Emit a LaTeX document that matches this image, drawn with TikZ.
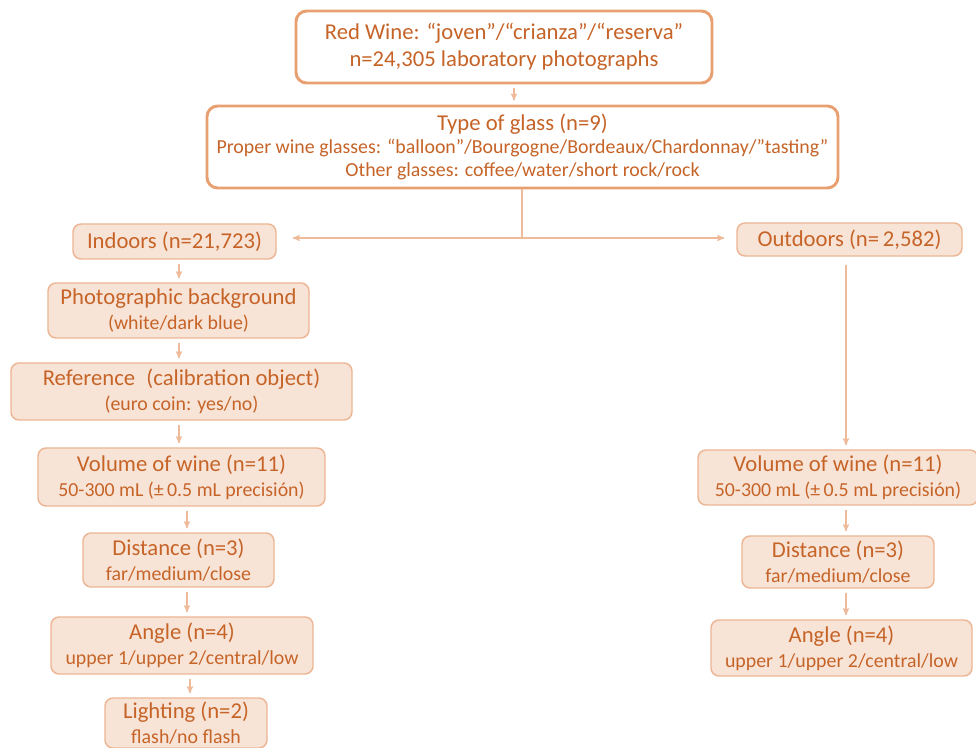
\documentclass[tikz,border=0pt]{standalone}
\usepackage{fontspec}
\setmainfont{Carlito}
\usepackage{tikz}
\usetikzlibrary{arrows,positioning}

\definecolor{winetext}{RGB}{198,100,40}
\definecolor{wineedge}{RGB}{232,160,112}
\definecolor{winefill}{RGB}{248,228,215}
\definecolor{winestep}{RGB}{236,182,148}
\definecolor{winearrow}{RGB}{238,186,154}

\newcommand{\sublabel}[1]{{\fontsize{14.9}{17}\selectfont #1}}

\begin{document}
\begin{tikzpicture}[x=0.75pt,y=-0.75pt,
      topbox/.style={draw=wineedge, line width=2.2pt, fill=white, rounded corners=8pt,
        text=winetext, align=center, font={\fontsize{17}{20}\selectfont}, inner sep=0pt},
      stepbox/.style={draw=winestep, line width=1.1pt, fill=winefill, rounded corners=6pt,
        text=winetext, align=center, font={\fontsize{17}{18.7}\selectfont}, inner sep=0pt},
      boxsize/.style 2 args={minimum width={#1*0.75pt}, minimum height={#2*0.75pt}},
      flow/.style={->, >=stealth', draw=winearrow, line width=0.9pt, shorten >=3pt, shorten <=3pt}]

    \useasboundingbox (0,0) rectangle (976,748);

    %draw top boxes
    \node[topbox, boxsize={416}{72}] (wine) at (504,47)
      {Red Wine: “joven”/“crianza”/“reserva”\\n=24,305 laboratory photographs};
    \node[topbox, boxsize={631}{82}, font={\fontsize{17}{17.3}\selectfont}] (glass) at (522.5,147)
      {Type of glass (n=9)\\
       \sublabel{Proper wine glasses: “balloon”/Bourgogne/Bordeaux/Chardonnay/”tasting”}\\
       \sublabel{Other glasses: coffee/water/short rock/rock}};

    %draw indoor branch
    \node[stepbox, boxsize={203}{35}] (indoors) at (174.5,241.5) {Indoors (n=21,723)};
    \node[stepbox, boxsize={261}{55}] (backgr) at (178.5,310.5)
      {Photographic background\\\sublabel{(white/dark blue)}};
    \node[stepbox, boxsize={341}{57}] (refobj) at (181.5,391.5)
      {Reference\enspace(calibration object)\\\sublabel{(euro coin: yes/no)}};
    \node[stepbox, boxsize={287}{58}] (volin) at (181.5,477)
      {Volume of wine (n=11)\\\sublabel{50-300 mL (±\,0.5 mL precisión)}};
    \node[stepbox, boxsize={191}{54}] (distin) at (178.5,560)
      {Distance (n=3)\\\sublabel{far/medium/close}};
    \node[stepbox, boxsize={262}{57}] (anglein) at (182,645.5)
      {Angle (n=4)\\\sublabel{upper 1/upper 2/central/low}};
    \node[stepbox, boxsize={162}{50}] (lightin) at (186,723)
      {Lighting (n=2)\\\sublabel{flash/no flash}};

    %draw outdoor branch
    \node[stepbox, boxsize={225}{33}] (outdoors) at (849.5,239.5) {Outdoors (n=\,2,582)};
    \node[stepbox, boxsize={280}{55}] (volout) at (838,477.5)
      {Volume of wine (n=11)\\\sublabel{50-300 mL (±\,0.5 mL precisión)}};
    \node[stepbox, boxsize={192}{52}] (distout) at (838,562)
      {Distance (n=3)\\\sublabel{far/medium/close}};
    \node[stepbox, boxsize={261}{56}] (angleout) at (841.5,648)
      {Angle (n=4)\\\sublabel{upper 1/upper 2/central/low}};

    %draw connectors
    \coordinate (split) at (522,238);
    \draw[flow] (wine.south -| 514,0) -- (glass.north -| 514,0);
    \draw[draw=winearrow, line width=0.9pt] (glass.south -| split) -- (split);
    \draw[flow, shorten <=0pt, shorten >=12pt] (split) -- (split -| indoors.east);
    \draw[flow, shorten <=0pt, shorten >=9pt] (split) -- (split -| outdoors.west);

    \draw[flow] (indoors.south -| 179,0) -- (backgr.north -| 179,0);
    \draw[flow] (backgr.south -| 179,0) -- (refobj.north -| 179,0);
    \draw[flow] (refobj.south -| 179,0) -- (volin.north -| 179,0);
    \draw[flow] (volin.south -| 187,0) -- (distin.north -| 187,0);
    \draw[flow] (distin.south -| 187,0) -- (anglein.north -| 187,0);
    \draw[flow] (anglein.south -| 190,0) -- (lightin.north -| 190,0);

    \draw[flow, shorten <=6pt] (outdoors.south -| 846,0) -- (volout.north -| 846,0);
    \draw[flow] (volout.south -| 846,0) -- (distout.north -| 846,0);
    \draw[flow] (distout.south -| 846,0) -- (angleout.north -| 846,0);

  \end{tikzpicture}
\end{document}
